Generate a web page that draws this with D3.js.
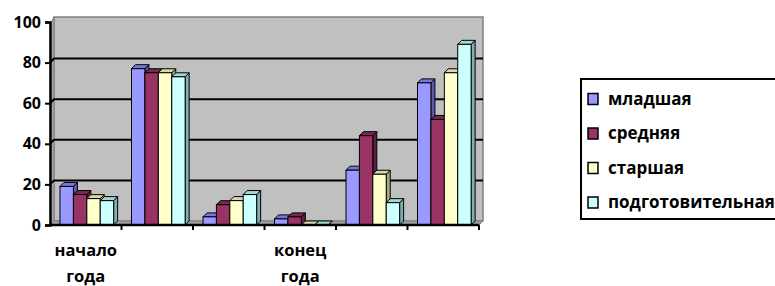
<!DOCTYPE html>
<html>
<head>
<meta charset="utf-8">
<script src="https://cdn.jsdelivr.net/npm/d3@7"></script>
<style>
  body { margin: 0; background: #fff; }
  text { font-family: "Open Sans", "DejaVu Sans", sans-serif; font-weight: 700; fill: #000; }
</style>
</head>
<body>
<svg></svg>
<script>
const width = 775;
const height = 286;

// six groups, only two of them carry a label on the axis
const categories = ["c1", "c2", "c3", "c4", "c5", "c6"];
const categoryLabels = [["начало", "года"], [], [], ["конец", "года"], [], []];
const series = ["младшая", "средняя", "старшая", "подготовительная"];

const mladshaya = [19, 77, 4, 3, 27, 70];
const srednyaya = [15, 75, 10, 4, 44, 52];
const starshaya = [13, 75, 12, 0, 25, 75];
const podgotov = [12, 73, 15, 0, 11, 89];
const values = [mladshaya, srednyaya, starshaya, podgotov];

const yTicks = [0, 20, 40, 60, 80, 100];

const frontColors = ["#9999ff", "#993366", "#ffffcc", "#ccffff"];
const sideColors = ["#5a5ab0", "#5e1f40", "#a8a880", "#7fb0b0"];
const topColors = ["#7777dd", "#7a2850", "#d8d8a8", "#a0d8d8"];

const depth = 4; // 3d offset, right and up

const svg = d3.select("svg")
  .attr("width", width)
  .attr("height", height);

const x0 = d3.scaleBand()
  .domain(categories)
  .range([50, 479]);

const bw = x0.bandwidth();
const x1 = d3.scaleBand()
  .domain(series)
  .range([bw * 0.14, bw * 0.89]);

const y = d3.scaleLinear()
  .domain([0, 100])
  .range([225, 22]);

// back wall
const wallLeft = 50 + depth, wallRight = 479 + depth;
svg.append("rect")
  .attr("x", wallLeft)
  .attr("y", y(100) - depth - 1)
  .attr("width", wallRight - wallLeft)
  .attr("height", y(0) - y(100) + 1)
  .attr("fill", "#c0c0c0")
  .attr("stroke", "#808080")
  .attr("stroke-width", 1.5);

// side wall and floor
svg.append("path")
  .attr("d", "M50," + (y(100) + 3) + "L" + wallLeft + "," + (y(100) - depth - 1) +
    "L" + wallLeft + "," + (y(0) - depth) + "L50," + y(0) + "Z")
  .attr("fill", "#a8a8a8")
  .attr("stroke", "#808080");
svg.append("path")
  .attr("d", "M50," + y(0) + "L" + wallLeft + "," + (y(0) - depth) +
    "L" + wallRight + "," + (y(0) - depth) + "L479," + y(0) + "Z")
  .attr("fill", "#a0a0a0")
  .attr("stroke", "#808080");

// gridlines on the wall
svg.append("g")
  .selectAll("path")
  .data(yTicks.filter(function (t) { return t > 0 && t < 100; }))
  .enter().append("path")
    .attr("d", function (t) {
      return "M50," + y(t) + "L" + wallLeft + "," + (y(t) - depth) + "L" + wallRight + "," + (y(t) - depth);
    })
    .attr("fill", "none")
    .attr("stroke", "#000")
    .attr("stroke-width", 2);

// bars
const groups = svg.append("g")
  .selectAll("g")
  .data(categories)
  .enter().append("g")
    .attr("transform", function (c) { return "translate(" + x0(c) + ",0)"; });

groups.each(function (c, ci) {
  const g = d3.select(this);
  series.forEach(function (s, si) {
    const v = values[si][ci];
    const bx = x1(s), w = x1.bandwidth();
    const top = y(v), base = y(0);
    const bar = g.append("g");
    bar.append("path")
      .attr("d", "M" + (bx + w) + "," + top + "L" + (bx + w + depth) + "," + (top - depth) +
        "L" + (bx + w + depth) + "," + (base - depth) + "L" + (bx + w) + "," + base + "Z")
      .attr("fill", sideColors[si])
      .attr("stroke", "#000")
      .attr("stroke-width", 1);
    bar.append("path")
      .attr("d", "M" + bx + "," + top + "L" + (bx + depth) + "," + (top - depth) +
        "L" + (bx + w + depth) + "," + (top - depth) + "L" + (bx + w) + "," + top + "Z")
      .attr("fill", topColors[si])
      .attr("stroke", "#000")
      .attr("stroke-width", 1);
    bar.append("rect")
      .attr("x", bx)
      .attr("y", top)
      .attr("width", w)
      .attr("height", base - top)
      .attr("fill", frontColors[si])
      .attr("stroke", "#000")
      .attr("stroke-width", 1);
  });
});

// y axis
const yAxis = svg.append("g")
  .attr("transform", "translate(50,0)")
  .call(d3.axisLeft(y).tickValues(yTicks).tickSize(5).tickPadding(4));
yAxis.select(".domain").attr("stroke", "#000").attr("stroke-width", 2.5);
yAxis.selectAll(".tick line").attr("stroke", "#000").attr("stroke-width", 2);
yAxis.selectAll(".tick text")
  .attr("font-size", 16);

// x axis, ticks at category boundaries
const boundaries = categories.map(function (c) { return x0(c) + bw; });
const xAxis = svg.append("g");
xAxis.append("line")
  .attr("x1", 50).attr("x2", 479)
  .attr("y1", y(0)).attr("y2", y(0))
  .attr("stroke", "#000")
  .attr("stroke-width", 2.5);
xAxis.selectAll(".bt")
  .data(boundaries)
  .enter().append("line")
    .attr("class", "bt")
    .attr("x1", function (d) { return d; })
    .attr("x2", function (d) { return d; })
    .attr("y1", y(0))
    .attr("y2", y(0) + 5)
    .attr("stroke", "#000")
    .attr("stroke-width", 2);

categories.forEach(function (c, ci) {
  categoryLabels[ci].forEach(function (line, li) {
    xAxis.append("text")
      .attr("x", x0(c) + bw / 2)
      .attr("y", 256 + li * 26)
      .attr("text-anchor", "middle")
      .attr("font-size", 16.5)
      .text(line);
  });
});

// legend
const legend = svg.append("g");
legend.append("rect")
  .attr("x", 581)
  .attr("y", 79)
  .attr("width", 210)
  .attr("height", 140)
  .attr("fill", "#fff")
  .attr("stroke", "#000")
  .attr("stroke-width", 2);

const item = legend.selectAll(".item")
  .data(series)
  .enter().append("g")
    .attr("class", "item")
    .attr("transform", function (d, i) { return "translate(588," + (99 + i * 34.5) + ")"; });

item.append("rect")
  .attr("x", 0)
  .attr("y", -5.5)
  .attr("width", 10)
  .attr("height", 11)
  .attr("fill", function (d, i) { return frontColors[i]; })
  .attr("stroke", "#000")
  .attr("stroke-width", 1.5);

item.append("text")
  .attr("x", 20)
  .attr("dy", "0.35em")
  .attr("font-size", 17)
  .text(function (d) { return d; });
</script>
</body>
</html>
